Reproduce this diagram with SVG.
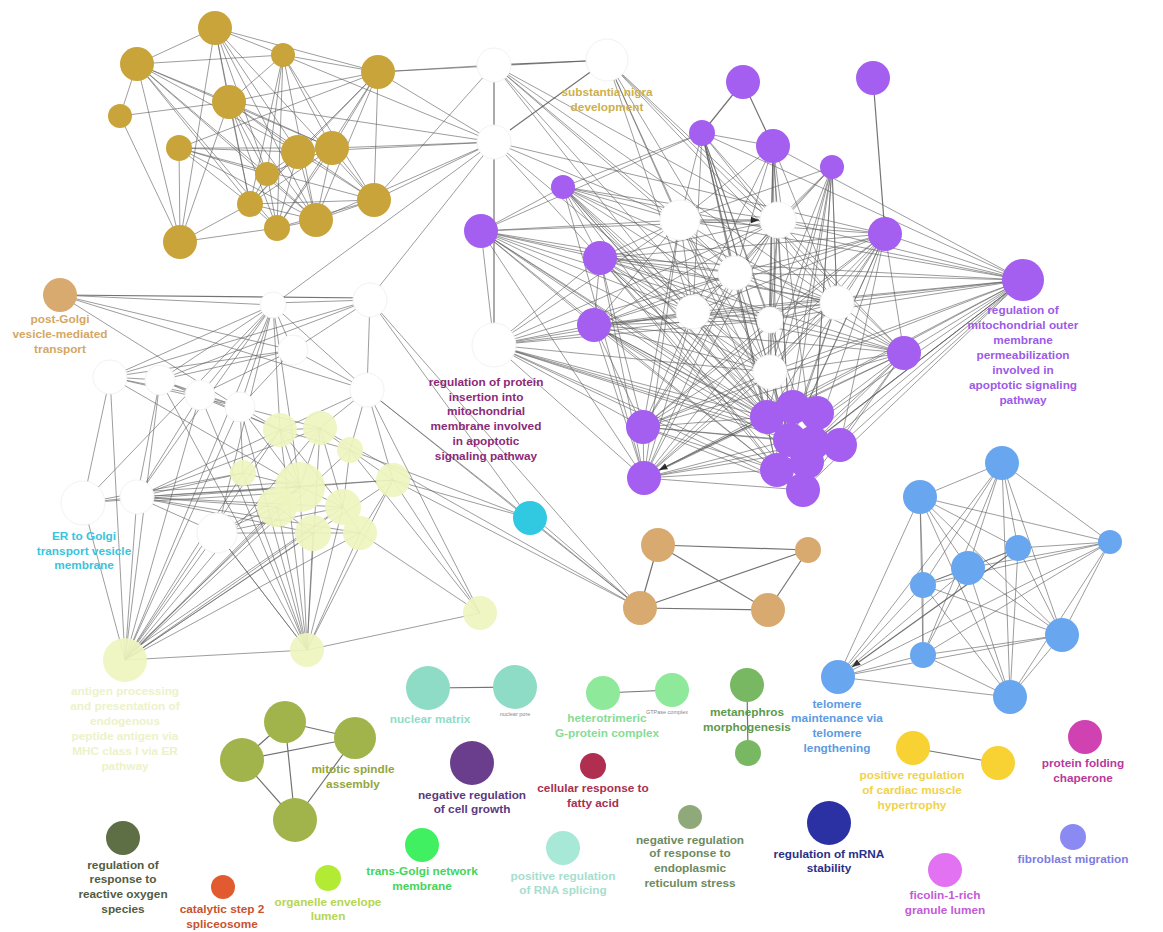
<svg xmlns="http://www.w3.org/2000/svg" width="1163" height="932" viewBox="0 0 1163 932">
<defs>
<marker id="arr" viewBox="0 0 10 10" refX="10" refY="5" markerWidth="7" markerHeight="7" orient="auto"><path d="M0 1L10 5L0 9z" fill="#111"/></marker>
</defs>
<style>
.e{stroke:#5e5e5e;stroke-width:0.9;fill:none;opacity:0.68}
.e2{stroke:#5a5a5a;stroke-width:1.2;fill:none;opacity:0.85}
.gd{fill:#c9a43a}
.pu{fill:#a45ef0}
.wh{fill:#fff;stroke:#f2f2f2;stroke-width:1}
.yg{fill:#eef4be;opacity:0.92}
.bl{fill:#68a7f0}
.tn{fill:#d9aa70}
.ol{fill:#a1b44b}
.t{font-family:"Liberation Sans",Arial,sans-serif;font-weight:bold;font-size:11.8px;text-anchor:middle}
.s{font-family:"Liberation Sans",Arial,sans-serif;font-size:5.5px;text-anchor:middle;fill:#888}
</style>
<rect width="1163" height="932" fill="#fff"/>
<g id="connectors">
<path class="e" d="M215 28L137 64M215 28L283 55M215 28L378 72M215 28L229 102M215 28L298 152M215 28L267 174M215 28L250 204M215 28L316 220M215 28L374 200M215 28L180 242
M137 64L283 55M137 64L120 116M137 64L229 102M137 64L298 152M137 64L267 174M137 64L250 204M137 64L316 220M137 64L277 228M137 64L180 242M137 64L332 148
M283 55L378 72M283 55L229 102M283 55L332 148M283 55L267 174M283 55L374 200M283 55L250 204M283 55L316 220M283 55L277 228
M378 72L229 102M378 72L298 152M378 72L332 148M378 72L374 200M378 72L250 204M378 72L316 220M378 72L277 228M378 72L179 148
M120 116L180 242M120 116L229 102
M229 102L298 152M229 102L332 148M229 102L267 174M229 102L374 200M229 102L250 204M229 102L316 220M229 102L277 228M229 102L180 242
M179 148L298 152M179 148L332 148M179 148L267 174M179 148L374 200M179 148L250 204M179 148L180 242M179 148L316 220
M298 152L332 148M298 152L267 174M298 152L374 200M298 152L250 204M298 152L316 220M298 152L277 228
M332 148L267 174M332 148L374 200M332 148L250 204M332 148L316 220M332 148L277 228
M267 174L250 204M267 174L316 220M267 174L277 228M374 200L250 204M374 200L316 220M374 200L277 228M250 204L316 220M250 204L277 228M316 220L277 228M250 204L180 242M277 228L180 242
M378 72L494 65M378 72L494 142M332 148L494 142M298 152L494 142M374 200L494 142M283 55L494 142M229 102L494 142M316 220L494 142M378 72L607 60M374 200L494 65"/>
<path class="e2" d="M494 65L607 60M494 65L494 142M607 60L510 130M494 142L494 345M743 82L702 133M743 82L773 146M873 78L885 234M60 295L370 298"/>
<path class="e" d="M494 65L680 220M494 65L778 220M494 65L735 273M494 65L790 440M494 65L770 372M494 65L837 303M607 60L680 220M607 60L778 220M607 60L735 273M607 60L693 312M607 60L767 417M607 60L837 303M607 60L904 353M494 142L680 220M494 142L600 258M494 142L770 372M494 142L885 234M370 298L494 142M273 305L494 142
M680 220L702 133M680 220L773 146M680 220L832 167M680 220L563 187M680 220L481 231M680 220L600 258M680 220L885 234M680 220L1023 280M680 220L594 325M680 220L904 353M680 220L643 427M680 220L644 478M680 220L494 345
M778 220L702 133M778 220L773 146M778 220L832 167M778 220L563 187M778 220L481 231M778 220L600 258M778 220L885 234M778 220L1023 280M778 220L594 325M778 220L904 353M778 220L643 427M778 220L644 478M778 220L494 345
M735 273L702 133M735 273L773 146M735 273L832 167M735 273L563 187M735 273L481 231M735 273L600 258M735 273L885 234M735 273L1023 280M735 273L594 325M735 273L904 353M735 273L643 427M735 273L644 478M735 273L494 345
M693 312L702 133M693 312L773 146M693 312L832 167M693 312L563 187M693 312L481 231M693 312L600 258M693 312L885 234M693 312L1023 280M693 312L594 325M693 312L904 353M693 312L643 427M693 312L644 478M693 312L494 345
M770 320L702 133M770 320L773 146M770 320L832 167M770 320L563 187M770 320L481 231M770 320L600 258M770 320L885 234M770 320L1023 280M770 320L594 325M770 320L904 353M770 320L643 427M770 320L644 478M770 320L494 345
M837 303L702 133M837 303L773 146M837 303L832 167M837 303L563 187M837 303L481 231M837 303L600 258M837 303L885 234M837 303L1023 280M837 303L594 325M837 303L904 353M837 303L643 427M837 303L644 478M837 303L494 345
M770 372L702 133M770 372L773 146M770 372L832 167M770 372L563 187M770 372L481 231M770 372L600 258M770 372L885 234M770 372L1023 280M770 372L594 325M770 372L904 353M770 372L643 427M770 372L644 478M770 372L494 345
M767 417L702 133M767 417L773 146M767 417L832 167M767 417L563 187M767 417L481 231M767 417L600 258M767 417L885 234M767 417L1023 280M767 417L594 325M767 417L904 353M767 417L643 427M767 417L494 345
M790 440L702 133M790 440L773 146M790 440L832 167M790 440L563 187M790 440L481 231M790 440L600 258M790 440L885 234M790 440L1023 280M790 440L594 325M790 440L904 353M790 440L643 427M790 440L644 478M790 440L494 345
M777 470L702 133M777 470L773 146M777 470L832 167M777 470L563 187M777 470L481 231M777 470L600 258M777 470L885 234M777 470L1023 280M777 470L594 325M777 470L904 353M777 470L643 427M777 470L644 478M777 470L494 345
M813 443L702 133M813 443L773 146M813 443L832 167M813 443L563 187M813 443L481 231M813 443L600 258M813 443L885 234M813 443L1023 280M813 443L594 325M813 443L904 353M813 443L643 427M813 443L644 478M813 443L494 345
M680 220L735 273M680 220L693 312M680 220L770 372M680 220L790 440M778 220L735 273M778 220L770 320M778 220L770 372M778 220L790 440M735 273L693 312M735 273L837 303M735 273L790 440M693 312L770 320M693 312L790 440M770 320L837 303M770 320L790 440M837 303L770 372M837 303L790 440M770 372L790 440M735 273L777 470M837 303L777 470M693 312L813 443
M702 133L773 146M832 167L837 303M832 167L813 443M773 146L1023 280M702 133L1023 280M702 133L563 187M702 133L481 231M563 187L481 231
M1023 280L600 258M1023 280L594 325M1023 280L643 427M1023 280L644 478M1023 280L904 353M1023 280L885 234M1023 280L563 187M1023 280L840 445M1023 280L803 490M1023 280L807 460M1023 280L777 470
M885 234L594 325M885 234L600 258M885 234L643 427M885 234L644 478M885 234L904 353M885 234L840 445
M904 353L600 258M904 353L594 325M904 353L643 427M904 353L644 478M904 353L840 445M904 353L803 490
M600 258L643 427M600 258L644 478M594 325L643 427M594 325L644 478M481 231L600 258M481 231L594 325M481 231L644 478M600 258L594 325M563 187L600 258M563 187L644 478
M494 345L803 490M494 345L840 445M494 345L644 478M494 345L643 427M494 345L600 258M494 345L594 325M494 345L481 231
M643 427L644 478M643 427L803 490M644 478L803 490M644 478L840 445M600 258L803 490M594 325L807 460"/>
<path class="e" d="M60 295L273 305M60 295L300 352M60 295L367 390M60 295L240 408
M273 305L110 377M273 305L160 380M273 305L200 395M273 305L240 407M273 305L83 503M273 305L137 497M273 305L217 533M273 305L125 660M273 305L300 487M273 305L280 430M273 305L293 350M273 305L367 390
M370 300L367 390M370 300L293 350M370 300L273 303M370 300L110 377M370 300L160 380M370 300L529 518M370 300L640 608
M293 350L110 377M293 350L160 380M293 350L200 395M293 350L240 407M293 350L367 390
M110 377L83 503M110 377L125 660M110 377L160 380M110 377L200 395M110 377L240 407M110 377L300 487
M160 380L137 497M160 380L200 395M160 380L240 407M160 380L280 430M160 380L125 660M160 380L307 650
M200 395L240 407M200 395L280 430M200 395L137 497M200 395L125 660M200 395L307 650
M240 407L280 430M240 407L320 428M240 407L243 473M240 407L300 487M240 407L125 660M240 407L307 650
M367 390L480 613M367 390L529 518M367 390L640 608M367 390L320 428M367 390L393 480M367 390L350 450M367 390L280 430
M83 503L137 497M83 503L125 660M83 503L300 487M83 503L243 473
M137 497L243 473M137 497L300 487M137 497L277 507M137 497L343 507M137 497L313 533M137 497L360 533M137 497L393 480M137 497L280 430M137 497L320 428M137 497L125 660M137 497L217 533M137 492L300 482M137 502L300 492
M217 533L300 487M217 533L313 533M217 533L277 507M217 533L125 660M217 533L307 650M217 533L343 507
M280 430L320 428M280 430L350 450M320 428L350 450M280 430L243 473M280 430L300 487M320 428L300 487M350 450L393 480M243 473L300 487M300 487L393 480M300 487L277 507M300 487L343 507M343 507L360 533M313 533L360 533M277 507L313 533M320 428L343 507M350 450L343 507M393 480L360 533M280 430L343 507
M125 660L243 473M125 660L300 487M125 660L277 507M125 660L343 507M125 660L313 533M125 660L360 533M125 660L280 430M125 660L320 428M125 660L393 480M125 660L350 450M125 660L307 650M128 655L290 500M130 652L330 515
M307 650L300 487M307 650L277 507M307 650L343 507M307 650L313 533M307 650L360 533M307 650L243 473M307 650L280 430M307 650L320 428M307 650L393 480M307 650L480 613M307 650L217 533
M480 613L393 480M480 613L360 533M480 613L350 450
M393 480L529 518M393 480L640 608M350 450L529 518M320 428L640 608M529 518L640 608M520 505L640 608"/>
<path class="e2" d="M658 545L808 550M658 545L768 610M658 545L640 608M640 608L808 550M640 608L768 610M768 610L808 550"/>
<path class="e" d="M1002 463L920 497M1002 463L1110 542M1002 463L1018 548M1002 463L968 568M1002 463L923 585M1002 463L1062 635M1002 463L923 655M1002 463L1010 697M1002 463L838 677
M920 497L1110 542M920 497L1018 548M920 497L968 568M920 497L923 585M920 497L1062 635M920 497L923 655M920 497L838 677M920 497L1010 697
M1110 542L1018 548M1110 542L968 568M1110 542L923 585M1110 542L1062 635M1110 542L923 655M1110 542L838 677M1110 542L1010 697
M1018 548L968 568M1018 548L923 585M1018 548L1062 635M1018 548L1010 697
M968 568L923 585M968 568L1062 635M968 568L923 655M968 568L838 677M968 568L1010 697
M923 585L1062 635M923 585L923 655M923 585L838 677M923 585L1010 697
M1062 635L923 655M1062 635L838 677M1062 635L1010 697M923 655L838 677M923 655L1010 697M838 677L1010 697"/>
<path class="e2" d="M428 688L515 687M603 693L672 690M747 685L748 753M913 748L998 763M285 722L355 738M242 760L355 738M242 760L285 722M285 722L295 820M242 760L295 820M355 738L295 820"/>
<path class="e2" d="M680 220L759 220" marker-end="url(#arr)"/>
<path class="e2" d="M767 417L659 470" marker-end="url(#arr)"/>
<path class="e2" d="M1018 548L852 667" marker-end="url(#arr)"/>
</g>
<g id="nodes">
<g id="g1"><circle class="gd" cx="215" cy="28" r="17"/></g>
<g id="g2"><circle class="gd" cx="137" cy="64" r="17"/></g>
<g id="g3"><circle class="gd" cx="283" cy="55" r="12"/></g>
<g id="g4"><circle class="gd" cx="378" cy="72" r="17"/></g>
<g id="g5"><circle class="gd" cx="120" cy="116" r="12"/></g>
<g id="g6"><circle class="gd" cx="229" cy="102" r="17"/></g>
<g id="g7"><circle class="gd" cx="179" cy="148" r="13"/></g>
<g id="g8"><circle class="gd" cx="298" cy="152" r="17"/></g>
<g id="g9"><circle class="gd" cx="332" cy="148" r="17"/></g>
<g id="g10"><circle class="gd" cx="267" cy="174" r="12"/></g>
<g id="g11"><circle class="gd" cx="374" cy="200" r="17"/></g>
<g id="g12"><circle class="gd" cx="250" cy="204" r="13"/></g>
<g id="g13"><circle class="gd" cx="316" cy="220" r="17"/></g>
<g id="g14"><circle class="gd" cx="277" cy="228" r="13"/></g>
<g id="g15"><circle class="gd" cx="180" cy="242" r="17"/></g>

<g id="wa"><circle class="wh" cx="494" cy="65" r="17"/></g>
<g id="wb"><circle class="wh" cx="607" cy="60" r="21"/><text class="t" x="607" y="96" fill="#cdb04a">substantia nigra</text><text class="t" x="607" y="111" fill="#cdb04a">development</text></g>
<g id="wc"><circle class="wh" cx="494" cy="142" r="17"/></g>

<g id="wp1"><circle class="wh" cx="680" cy="220" r="20"/></g>
<g id="wp2"><circle class="wh" cx="778" cy="220" r="18"/></g>
<g id="wp3"><circle class="wh" cx="735" cy="273" r="17"/></g>
<g id="wp4"><circle class="wh" cx="693" cy="312" r="17"/></g>
<g id="wp5"><circle class="wh" cx="770" cy="320" r="13"/></g>
<g id="wp6"><circle class="wh" cx="837" cy="303" r="17"/></g>
<g id="wp7"><circle class="wh" cx="770" cy="372" r="17"/></g>
<g id="wL"><circle class="wh" cx="494" cy="345" r="22"/>
<text class="t" x="486" y="386" fill="#8c2a78">regulation of protein</text>
<text class="t" x="486" y="401" fill="#8c2a78">insertion into</text>
<text class="t" x="486" y="415" fill="#8c2a78">mitochondrial</text>
<text class="t" x="486" y="430" fill="#8c2a78">membrane involved</text>
<text class="t" x="486" y="445" fill="#8c2a78">in apoptotic</text>
<text class="t" x="486" y="460" fill="#8c2a78">signaling pathway</text></g>

<g id="p1"><circle class="pu" cx="743" cy="82" r="17"/></g>
<g id="p2"><circle class="pu" cx="873" cy="78" r="17"/></g>
<g id="p3"><circle class="pu" cx="702" cy="133" r="13"/></g>
<g id="p4"><circle class="pu" cx="773" cy="146" r="17"/></g>
<g id="p5"><circle class="pu" cx="832" cy="167" r="12"/></g>
<g id="p6"><circle class="pu" cx="563" cy="187" r="12"/></g>
<g id="p7"><circle class="pu" cx="481" cy="231" r="17"/></g>
<g id="p8"><circle class="pu" cx="600" cy="258" r="17"/></g>
<g id="p9"><circle class="pu" cx="885" cy="234" r="17"/></g>
<g id="p10"><circle class="pu" cx="1023" cy="280" r="21"/>
<text class="t" x="1023" y="314" fill="#9d5ae8">regulation of</text>
<text class="t" x="1023" y="329" fill="#9d5ae8">mitochondrial outer</text>
<text class="t" x="1023" y="344" fill="#9d5ae8">membrane</text>
<text class="t" x="1023" y="359" fill="#9d5ae8">permeabilization</text>
<text class="t" x="1023" y="374" fill="#9d5ae8">involved in</text>
<text class="t" x="1023" y="389" fill="#9d5ae8">apoptotic signaling</text>
<text class="t" x="1023" y="404" fill="#9d5ae8">pathway</text></g>
<g id="p11"><circle class="pu" cx="594" cy="325" r="17"/></g>
<g id="p12"><circle class="pu" cx="904" cy="353" r="17"/></g>
<g id="p13"><circle class="pu" cx="643" cy="427" r="17"/></g>
<g id="p14"><circle class="pu" cx="644" cy="478" r="17"/></g>
<g id="pc1"><circle class="pu" cx="767" cy="417" r="17"/></g>
<g id="pc2"><circle class="pu" cx="793" cy="407" r="17"/></g>
<g id="pc3"><circle class="pu" cx="817" cy="413" r="17"/></g>
<g id="pc4"><circle class="pu" cx="790" cy="440" r="17"/></g>
<g id="pc5"><circle class="pu" cx="813" cy="443" r="17"/></g>
<g id="pc6"><circle class="pu" cx="840" cy="445" r="17"/></g>
<g id="pc7"><circle class="pu" cx="807" cy="462" r="17"/></g>
<g id="pc8"><circle class="pu" cx="777" cy="470" r="17"/></g>
<g id="pc9"><circle class="pu" cx="803" cy="490" r="17"/></g>

<g id="pg"><circle cx="60" cy="295" r="17" fill="#d9aa70"/>
<text class="t" x="60" y="323" fill="#d4a765">post-Golgi</text>
<text class="t" x="60" y="338" fill="#d4a765">vesicle-mediated</text>
<text class="t" x="60" y="353" fill="#d4a765">transport</text></g>
<g id="l1"><circle class="wh" cx="273" cy="305" r="13"/></g>
<g id="l2"><circle class="wh" cx="370" cy="300" r="17"/></g>
<g id="l3"><circle class="wh" cx="110" cy="377" r="17"/></g>
<g id="l4"><circle class="wh" cx="160" cy="380" r="15"/></g>
<g id="l5"><circle class="wh" cx="200" cy="395" r="15"/></g>
<g id="l6"><circle class="wh" cx="240" cy="407" r="15"/></g>
<g id="l7"><circle class="wh" cx="293" cy="350" r="15"/></g>
<g id="l8"><circle class="wh" cx="367" cy="390" r="17"/></g>
<g id="l9"><circle class="wh" cx="83" cy="503" r="22"/>
<text class="t" x="84" y="540" fill="#38c4dc">ER to Golgi</text>
<text class="t" x="84" y="555" fill="#38c4dc">transport vesicle</text>
<text class="t" x="84" y="569" fill="#38c4dc">membrane</text></g>
<g id="l10"><circle class="wh" cx="137" cy="497" r="17"/></g>
<g id="l11"><circle class="wh" cx="217" cy="533" r="20"/></g>
<g id="y1"><circle class="yg" cx="280" cy="430" r="17"/></g>
<g id="y2"><circle class="yg" cx="320" cy="428" r="17"/></g>
<g id="y3"><circle class="yg" cx="350" cy="450" r="13"/></g>
<g id="y4"><circle class="yg" cx="243" cy="473" r="13"/></g>
<g id="y5"><circle class="yg" cx="393" cy="480" r="17"/></g>
<g id="y6"><circle class="yg" cx="300" cy="487" r="25"/></g>
<g id="y7"><circle class="yg" cx="277" cy="507" r="20"/></g>
<g id="y8"><circle class="yg" cx="343" cy="507" r="18"/></g>
<g id="y9"><circle class="yg" cx="313" cy="533" r="18"/></g>
<g id="y10"><circle class="yg" cx="360" cy="533" r="17"/></g>
<g id="y12"><circle class="yg" cx="480" cy="613" r="17"/></g>
<g id="y13"><circle class="yg" cx="307" cy="650" r="17"/></g>
<g id="y14"><circle class="yg" cx="125" cy="660" r="22"/>
<text class="t" x="125" y="695" fill="#edf2c8">antigen processing</text>
<text class="t" x="125" y="710" fill="#edf2c8">and presentation of</text>
<text class="t" x="125" y="725" fill="#edf2c8">endogenous</text>
<text class="t" x="125" y="740" fill="#edf2c8">peptide antigen via</text>
<text class="t" x="125" y="755" fill="#edf2c8">MHC class I via ER</text>
<text class="t" x="125" y="770" fill="#edf2c8">pathway</text></g>

<g id="cyan"><circle cx="530" cy="518" r="17" fill="#31c8e2"/></g>
<g id="t1"><circle class="tn" cx="658" cy="545" r="17"/></g>
<g id="t2"><circle class="tn" cx="808" cy="550" r="13"/></g>
<g id="t3"><circle class="tn" cx="640" cy="608" r="17"/></g>
<g id="t4"><circle class="tn" cx="768" cy="610" r="17"/></g>

<g id="b1"><circle class="bl" cx="1002" cy="463" r="17"/></g>
<g id="b2"><circle class="bl" cx="920" cy="497" r="17"/></g>
<g id="b3"><circle class="bl" cx="1110" cy="542" r="12"/></g>
<g id="b4"><circle class="bl" cx="1018" cy="548" r="13"/></g>
<g id="b5"><circle class="bl" cx="968" cy="568" r="17"/></g>
<g id="b6"><circle class="bl" cx="923" cy="585" r="13"/></g>
<g id="b7"><circle class="bl" cx="1062" cy="635" r="17"/></g>
<g id="b8"><circle class="bl" cx="923" cy="655" r="13"/></g>
<g id="b9"><circle class="bl" cx="838" cy="677" r="17"/>
<text class="t" x="837" y="708" fill="#5c9be2">telomere</text>
<text class="t" x="837" y="722" fill="#5c9be2">maintenance via</text>
<text class="t" x="837" y="737" fill="#5c9be2">telomere</text>
<text class="t" x="837" y="752" fill="#5c9be2">lengthening</text></g>
<g id="b10"><circle class="bl" cx="1010" cy="697" r="17"/></g>

<g id="nm1"><circle cx="428" cy="688" r="22" fill="#8fdcc6"/><text class="t" x="430" y="723" fill="#90dcc8">nuclear matrix</text></g>
<g id="nm2"><circle cx="515" cy="687" r="22" fill="#8fdcc6"/><text class="s" x="515" y="716">nuclear pore</text></g>
<g id="hg1"><circle cx="603" cy="693" r="17" fill="#8ee99a"/><text class="t" x="607" y="722" fill="#86dc96">heterotrimeric</text><text class="t" x="607" y="737" fill="#86dc96">G-protein complex</text></g>
<g id="hg2"><circle cx="672" cy="690" r="17" fill="#8ee99a"/><text class="s" x="667" y="714">GTPase complex</text></g>
<g id="mn1"><circle cx="747" cy="685" r="17" fill="#79b862"/><text class="t" x="747" y="716" fill="#5c9a4c">metanephros</text><text class="t" x="747" y="731" fill="#5c9a4c">morphogenesis</text></g>
<g id="mn2"><circle cx="748" cy="753" r="13" fill="#79b862"/></g>

<g id="ms1"><circle class="ol" cx="285" cy="722" r="21"/></g>
<g id="ms2"><circle class="ol" cx="355" cy="738" r="21"/><text class="t" x="353" y="773" fill="#93a63c">mitotic spindle</text><text class="t" x="353" y="788" fill="#93a63c">assembly</text></g>
<g id="ms3"><circle class="ol" cx="242" cy="760" r="22"/></g>
<g id="ms4"><circle class="ol" cx="295" cy="820" r="22"/></g>

<g id="ros"><circle cx="123" cy="838" r="17" fill="#5e6e45"/>
<text class="t" x="123" y="869" fill="#525c42">regulation of</text>
<text class="t" x="123" y="883" fill="#525c42">response to</text>
<text class="t" x="123" y="898" fill="#525c42">reactive oxygen</text>
<text class="t" x="123" y="913" fill="#525c42">species</text></g>
<g id="spl"><circle cx="223" cy="887" r="12" fill="#e25a30"/><text class="t" x="222" y="913" fill="#c8532e">catalytic step 2</text><text class="t" x="222" y="928" fill="#c8532e">spliceosome</text></g>
<g id="oel"><circle cx="328" cy="878" r="13" fill="#b2ea34"/><text class="t" x="328" y="906" fill="#b5d650">organelle envelope</text><text class="t" x="328" y="920" fill="#b5d650">lumen</text></g>
<g id="ncg"><circle cx="472" cy="763" r="22" fill="#6a3e8c"/><text class="t" x="472" y="799" fill="#5b3a80">negative regulation</text><text class="t" x="472" y="813" fill="#5b3a80">of cell growth</text></g>
<g id="cfa"><circle cx="593" cy="766" r="13" fill="#b02e50"/><text class="t" x="593" y="792" fill="#a83050">cellular response to</text><text class="t" x="593" y="807" fill="#a83050">fatty acid</text></g>
<g id="tgn"><circle cx="422" cy="845" r="17" fill="#40f060"/><text class="t" x="422" y="875" fill="#44d45a">trans-Golgi network</text><text class="t" x="422" y="890" fill="#44d45a">membrane</text></g>
<g id="rsp"><circle cx="563" cy="848" r="17" fill="#a8e8d6"/><text class="t" x="563" y="880" fill="#a6dece">positive regulation</text><text class="t" x="563" y="894" fill="#a6dece">of RNA splicing</text></g>
<g id="ers"><circle cx="690" cy="817" r="12" fill="#8fa97a"/>
<text class="t" x="690" y="844" fill="#6d8a60">negative regulation</text>
<text class="t" x="690" y="857" fill="#6d8a60">of response to</text>
<text class="t" x="690" y="872" fill="#6d8a60">endoplasmic</text>
<text class="t" x="690" y="887" fill="#6d8a60">reticulum stress</text></g>
<g id="mrna"><circle cx="829" cy="823" r="22" fill="#2b31a2"/><text class="t" x="829" y="858" fill="#2a2f88">regulation of mRNA</text><text class="t" x="829" y="872" fill="#2a2f88">stability</text></g>
<g id="cmh1"><circle cx="913" cy="748" r="17" fill="#f8d232"/>
<text class="t" x="912" y="779" fill="#f0d24c">positive regulation</text>
<text class="t" x="912" y="794" fill="#f0d24c">of cardiac muscle</text>
<text class="t" x="912" y="809" fill="#f0d24c">hypertrophy</text></g>
<g id="cmh2"><circle cx="998" cy="763" r="17" fill="#f8d232"/></g>
<g id="pfc"><circle cx="1085" cy="737" r="17" fill="#d042b2"/><text class="t" x="1083" y="767" fill="#b83a9c">protein folding</text><text class="t" x="1083" y="782" fill="#b83a9c">chaperone</text></g>
<g id="fbm"><circle cx="1073" cy="837" r="13" fill="#8a8af2"/><text class="t" x="1073" y="863" fill="#7c7ce0">fibroblast migration</text></g>
<g id="fic"><circle cx="945" cy="870" r="17" fill="#e272f2"/><text class="t" x="945" y="899" fill="#c45ad8">ficolin-1-rich</text><text class="t" x="945" y="914" fill="#c45ad8">granule lumen</text></g>
</g>
</svg>
